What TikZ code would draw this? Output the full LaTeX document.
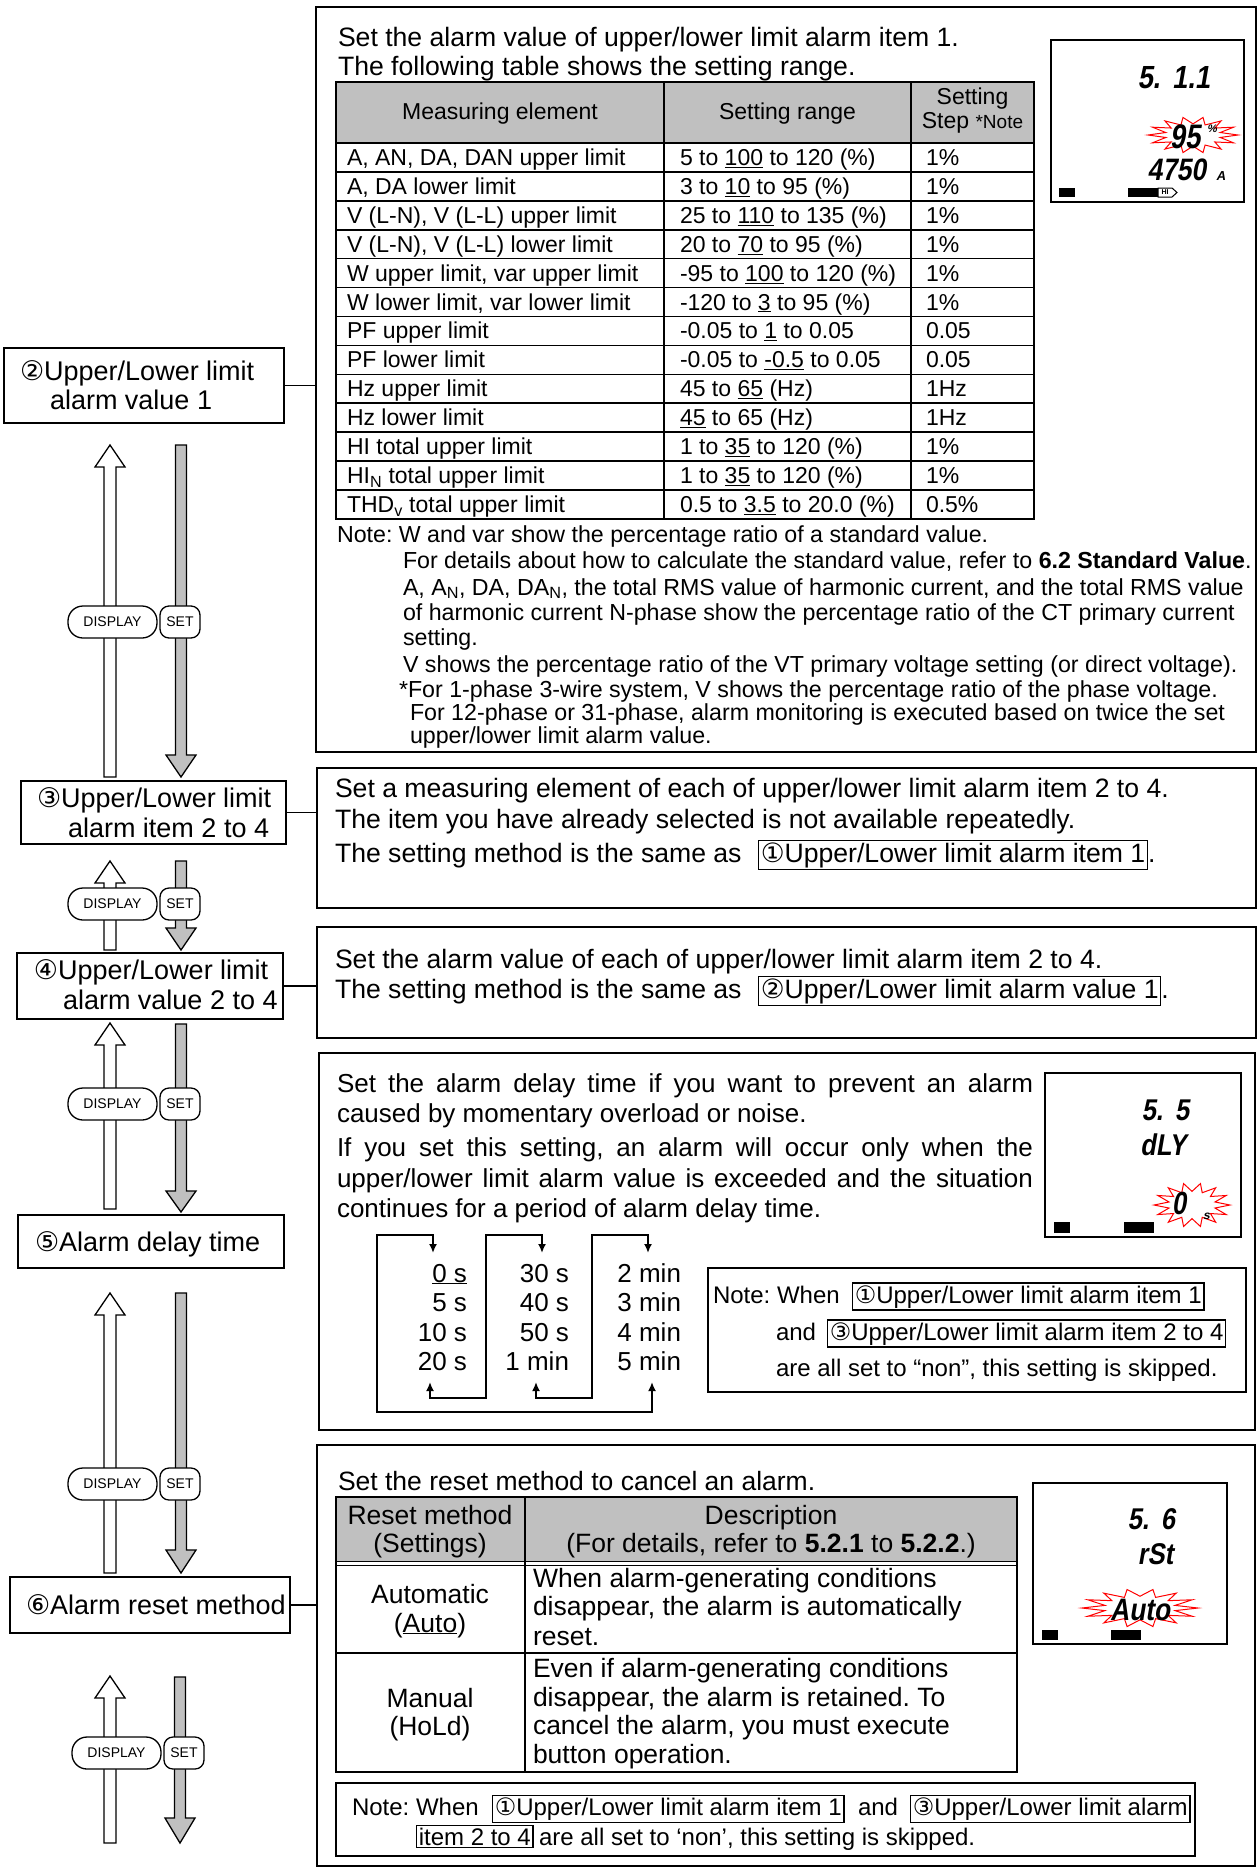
\documentclass[tikz,border=0pt]{standalone}
\usepackage{fontspec}
\setmainfont{Liberation Sans}
\newfontfamily\cfont{DejaVu Sans}
\newfontfamily\lcd{Liberation Sans}[FakeSlant=0.2]
\usepackage{graphicx}
\usetikzlibrary{arrows.meta}
\frenchspacing
\definecolor{hdrgray}{RGB}{192,192,192}
\definecolor{argray}{RGB}{192,192,192}
\newcommand\fsz[1]{\fontsize{#1}{#1}\selectfont}
\newcommand\cn[1]{{\cfont #1}}
\setlength\fboxsep{1.5pt}
\setlength\fboxrule{1.3pt}
\tikzset{
  panel/.style={draw, line width=1.6pt, inner sep=0pt, outer sep=0pt, anchor=north west},
  stepbox/.style={draw, line width=1.4pt, inner sep=0pt, outer sep=0pt, anchor=north west},
  txt/.style={anchor=base west, inner sep=0pt, outer sep=0pt},
  ctxt/.style={anchor=base, inner sep=0pt, outer sep=0pt},
  rtxt/.style={anchor=base east, inner sep=0pt, outer sep=0pt},
  lcdt/.style={inner sep=0pt, outer sep=0pt, text height=0.7em, text depth=0pt},
  conn/.style={line width=1.4pt},
  upar/.style={draw, fill=white, line width=1.3pt},
  dnar/.style={draw, fill=argray, line width=1.3pt},
  btn/.style={draw, fill=white, line width=1.3pt, inner sep=0pt, minimum height=32pt, font={\fsz{14}}},
  grid/.style={line width=1.6pt},
  loopar/.style={line width=2pt, {Latex[length=9pt,width=8pt]}-{Latex[length=9pt,width=8pt]}},
  burst/.style={draw=red, line width=1pt},
  lcdbox/.style={draw, line width=2.4pt},
}
% cx, tip, bottom
\newcommand\uparr[3]{\draw[upar] (#1-6,#3) -- (#1-6,#2+22) -- (#1-15,#2+22) -- (#1,#2) -- (#1+15,#2+22) -- (#1+6,#2+22) -- (#1+6,#3) -- cycle;}
% cx, top, headtop, tip
\newcommand\dnarr[4]{\draw[dnar] (#1-5.5,#2) -- (#1-5.5,#3) -- (#1-15,#3) -- (#1,#4) -- (#1+15,#3) -- (#1+5.5,#3) -- (#1+5.5,#2) -- cycle;}
% name suffix, dx, ytop
\newcommand\btns[3]{%
  \node[btn, rounded corners=15pt, minimum width=89pt] (disp#1) at (112.5+#2,#3+16) {DISPLAY};
  \node[btn, rounded corners=9pt, minimum width=40pt] (set#1) at (180+#2,#3+16) {SET};}
% cx, cy, rx, ry
\newcommand\burst[4]{\draw[burst] plot[domain=0:28, samples=29] ({#1+(0.81+0.19*cos(\x*180))*#3*cos(\x*360/28)},{#2+(0.81+0.19*cos(\x*180))*#4*sin(\x*360/28)}) -- cycle;}
\newcommand\trow[4]{%
  \node[txt] (ra#1) at (347,{143+(#1-0.5)*28.92+8}) {#2};
  \node[txt] (rb#1) at (680,{143+(#1-0.5)*28.92+8}) {#3};
  \node[txt] (rc#1) at (926,{143+(#1-0.5)*28.92+8}) {#4};}

\begin{document}
\begin{tikzpicture}[x=1pt,y=-1pt]
\useasboundingbox (0,0) rectangle (1258,1872);
\fill[white] (0,0) rectangle (1258,1872);

% ---------- left column boxes ----------
\node[stepbox, minimum width=280pt, minimum height=75pt] (b2) at (4,348) {};
\node[stepbox, minimum width=265pt, minimum height=63pt] (b3) at (21,781) {};
\node[stepbox, minimum width=266pt, minimum height=66pt] (b4) at (17,953) {};
\node[stepbox, minimum width=266pt, minimum height=53pt] (b5) at (18,1215) {};
\node[stepbox, minimum width=280pt, minimum height=56pt] (b6) at (10,1577) {};

\begin{scope}[font={\fsz{27}}]
\node[txt] (b2a) at (20,380) {\cn{②}Upper/Lower limit};
\node[txt] (b2b) at (50,409) {alarm value 1};
\node[txt] (b3a) at (37,807) {\cn{③}Upper/Lower limit};
\node[txt] (b3b) at (68,837) {alarm item 2 to 4};
\node[txt] (b4a) at (34,979) {\cn{④}Upper/Lower limit};
\node[txt] (b4b) at (63,1009) {alarm value 2 to 4};
\node[txt] (b5a) at (35,1251) {\cn{⑤}Alarm delay time};
\node[txt] (b6a) at (26,1614) {\cn{⑥}Alarm reset method};
\end{scope}

% ---------- arrows and buttons ----------
\uparr{110}{445}{777}
\dnarr{181}{445}{755}{777}
\btns{1}{0}{606}
\uparr{110}{861}{950}
\dnarr{181}{861}{928}{950}
\btns{2}{0}{888}
\uparr{110}{1023}{1209}
\dnarr{181}{1024}{1191}{1212}
\btns{3}{0}{1088}
\uparr{110}{1293}{1573}
\dnarr{181}{1293}{1550}{1573}
\btns{4}{0}{1468}
\uparr{110}{1676}{1843}
\dnarr{180}{1677}{1818}{1843}
\btns{5}{4}{1737}

% ---------- panels ----------
\node[panel, minimum width=940pt, minimum height=745pt] (p1) at (316,7) {};
\node[panel, minimum width=939pt, minimum height=140pt] (p2) at (317,768) {};
\node[panel, minimum width=939pt, minimum height=111pt] (p3) at (317,927) {};
\node[panel, minimum width=936pt, minimum height=377pt] (p4) at (319,1053) {};
\node[panel, minimum width=938pt, minimum height=421pt] (p5) at (317,1445) {};

\draw[conn] (b2.east) -- (b2.east -| p1.west);
\draw[conn] (b3.east) -- (b3.east -| p2.west);
\draw[conn] (b4.east) -- (b4.east -| p3.west);
\draw[conn] (b6.east) -- (b6.east -| p5.west);

% ---------- panel 1 ----------
\node[txt, font={\fsz{26.6}}] (p1l1) at (338,46) {Set the alarm value of upper/lower limit alarm item 1.};
\node[txt, font={\fsz{26.6}}] (p1l2) at (338,75) {The following table shows the setting range.};

\fill[hdrgray] (336,82) rectangle (1034,143);
\draw[grid] (336,82) rectangle (1034,519);
\draw[line width=2.4pt] (336,143) -- (1034,143);
\foreach \i in {1,...,12} \draw[grid] (336,{143+\i*28.92}) -- (1034,{143+\i*28.92});
\draw[grid] (664,82) -- (664,519);
\draw[grid] (911,82) -- (911,519);

\begin{scope}[font={\fsz{23}}]
\node[ctxt] (h1) at (500,119) {Measuring element};
\node[ctxt] (h2) at (787.5,119) {Setting range};
\node[ctxt] (h3) at (972.5,104) {Setting};
\node[ctxt] (h4) at (972.5,128) {Step {\fsz{19}*Note}};
\trow{1}{A, AN, DA, DAN upper limit}{5 to \underline{100} to 120 (\%)}{1\%}
\trow{2}{A, DA lower limit}{3 to \underline{10} to 95 (\%)}{1\%}
\trow{3}{V (L-N), V (L-L) upper limit}{25 to \underline{110} to 135 (\%)}{1\%}
\trow{4}{V (L-N), V (L-L) lower limit}{20 to \underline{70} to 95 (\%)}{1\%}
\trow{5}{W upper limit, var upper limit}{-95 to \underline{100} to 120 (\%)}{1\%}
\trow{6}{W lower limit, var lower limit}{-120 to \underline{3} to 95 (\%)}{1\%}
\trow{7}{PF upper limit}{-0.05 to \underline{1} to 0.05}{0.05}
\trow{8}{PF lower limit}{-0.05 to \underline{-0.5} to 0.05}{0.05}
\trow{9}{Hz upper limit}{45 to \underline{65} (Hz)}{1Hz}
\trow{10}{Hz lower limit}{\underline{45} to 65 (Hz)}{1Hz}
\trow{11}{HI total upper limit}{1 to \underline{35} to 120 (\%)}{1\%}
\trow{12}{HI\textsubscript{N} total upper limit}{1 to \underline{35} to 120 (\%)}{1\%}
\trow{13}{THD\textsubscript{v} total upper limit}{0.5 to \underline{3.5} to 20.0 (\%)}{0.5\%}
\end{scope}

\begin{scope}[font={\fsz{23.2}}]
\node[txt] (n1) at (337,542) {Note: W and var show the percentage ratio of a standard value.};
\node[txt] (n2) at (403,568) {For details about how to calculate the standard value, refer to \textbf{6.2 Standard Value}.};
\node[txt] (n3) at (403,595) {A, A\textsubscript{N}, DA, DA\textsubscript{N}, the total RMS value of harmonic current, and the total RMS value};
\node[txt] (n4) at (403,620) {of harmonic current N-phase show the percentage ratio of the CT primary current};
\node[txt] (n5) at (403,645) {setting.};
\node[txt] (n6) at (403,672) {V shows the percentage ratio of the VT primary voltage setting (or direct voltage).};
\node[txt] (n7) at (399,697) {*For 1-phase 3-wire system, V shows the percentage ratio of the phase voltage.};
\node[txt] (n8) at (410,720) {For 12-phase or 31-phase, alarm monitoring is executed based on twice the set};
\node[txt] (n9) at (410,743) {upper/lower limit alarm value.};
\end{scope}

% LCD 1
\draw[lcdbox] (1051,40) rectangle (1244,202);
\node[lcdt, anchor=base east, font={\lcd\bfseries\fsz{32}}] (lcd1a) at (1210,88) {\scalebox{0.85}[1]{5.\hspace{14pt}1.1}};
\burst{1193}{135}{45}{18}
\node[lcdt, anchor=base, font={\lcd\bfseries\fsz{34}}] (lcd1b) at (1185,148) {\scalebox{0.8}[1]{95}};
\node[lcdt, anchor=base west, font={\lcd\bfseries\fsz{11}}] (lcd1c) at (1207,132) {\%};
\node[lcdt, anchor=base east, font={\lcd\bfseries\fsz{31}}] (lcd1d) at (1206,180) {\scalebox{0.85}[1]{4750}};
\node[lcdt, anchor=base west, font={\lcd\bfseries\fsz{13}}] (lcd1e) at (1216,180) {A};
\fill (1059,188) rectangle (1075,197);
\fill (1128,188) rectangle (1158,197);
\draw[line width=1pt, fill=white] (1158,188) -- (1172,188) -- (1177,192.5) -- (1172,197) -- (1158,197) -- cycle;
\node[font={\bfseries\fsz{7}}, inner sep=0pt] (lcd1f) at (1165,192.5) {HI};

% ---------- panel 2 ----------
\begin{scope}[font={\fsz{26.6}}]
\node[txt] (p2l1) at (335,797) {Set a measuring element of each of upper/lower limit alarm item 2 to 4.};
\node[txt] (p2l2) at (335,828) {The item you have already selected is not available repeatedly.};
\node[txt] (p2l3) at (335,862) {The setting method is the same as};
\node[txt] (p2r) at (758,862) {\fbox{\cn{①}Upper/Lower limit alarm item 1}};
\node[txt] (p2d) at (p2r.base east) {.};
% ---------- panel 3 ----------
\node[txt] (p3l1) at (335,968) {Set the alarm value of each of upper/lower limit alarm item 2 to 4.};
\node[txt] (p3l2) at (335,998) {The setting method is the same as};
\node[txt] (p3r) at (758,998) {\fbox{\cn{②}Upper/Lower limit alarm value 1}};
\node[txt] (p3d) at (p3r.base east) {.};
\end{scope}
% ---------- panel 4 ----------
\begin{scope}[font={\fsz{26}}]
\node[txt] (p4l1) at (337,1092) {\makebox[696pt][s]{Set the alarm delay time if you want to prevent an alarm}};
\node[txt] (p4l2) at (337,1122) {caused by momentary overload or noise.};
\node[txt] (p4l3) at (337,1156) {\makebox[696pt][s]{If you set this setting, an alarm will occur only when the}};
\node[txt] (p4l4) at (337,1187) {\makebox[696pt][s]{upper/lower limit alarm value is exceeded and the situation}};
\node[txt] (p4l5) at (337,1217) {continues for a period of alarm delay time.};

\node[rtxt] (c11) at (467,1282) {\underline{0 s}};
\node[rtxt] (c12) at (467,1311) {5 s};
\node[rtxt] (c13) at (467,1341) {10 s};
\node[rtxt] (c14) at (467,1370) {20 s};
\node[rtxt] (c21) at (569,1282) {30 s};
\node[rtxt] (c22) at (569,1311) {40 s};
\node[rtxt] (c23) at (569,1341) {50 s};
\node[rtxt] (c24) at (569,1370) {1 min};
\node[rtxt] (c31) at (681,1282) {2 min};
\node[rtxt] (c32) at (681,1311) {3 min};
\node[rtxt] (c33) at (681,1341) {4 min};
\node[rtxt] (c34) at (681,1370) {5 min};
\end{scope}

\coordinate (la1) at (652,1382); \coordinate (la2) at (433,1253);
\coordinate (lb1) at (430,1382); \coordinate (lb2) at (542,1253);
\coordinate (lc1) at (536,1382); \coordinate (lc2) at (648,1253);
\draw[loopar] (la1) -- (652,1412) -- (377,1412) -- (377,1235) -- (433,1235) -- (la2);
\draw[loopar] (lb1) -- (430,1398) -- (486,1398) -- (486,1235) -- (542,1235) -- (lb2);
\draw[loopar] (lc1) -- (536,1398) -- (592,1398) -- (592,1235) -- (648,1235) -- (lc2);

\node[stepbox, minimum width=538pt, minimum height=124pt] (nb4) at (708,1268) {};
\begin{scope}[font={\fsz{24}}]
\node[txt] (nb4a) at (713,1303) {Note: When};
\node[txt] (nb4b) at (852,1303) {\fbox{\cn{①}Upper/Lower limit alarm item 1}};
\node[txt] (nb4c) at (776,1340) {and};
\node[txt] (nb4d) at (827,1340) {\fbox{\cn{③}Upper/Lower limit alarm item 2 to 4}};
\node[txt] (nb4e) at (776,1376) {are all set to “non”, this setting is skipped.};
\end{scope}

% LCD 2
\draw[lcdbox] (1045,1073) rectangle (1241,1237);
\node[lcdt, anchor=base east, font={\lcd\bfseries\fsz{30}}] (lcd2a) at (1189,1120) {\scalebox{0.85}[1]{5.\hspace{14pt}5}};
\node[lcdt, anchor=base east, font={\lcd\bfseries\fsz{30}}] (lcd2b) at (1186,1155) {\scalebox{0.85}[1]{dLY}};
\burst{1192}{1205}{38}{22}
\node[lcdt, anchor=base, font={\lcd\bfseries\fsz{32}}] (lcd2c) at (1179,1214) {\scalebox{0.8}[1]{0}};
\node[lcdt, anchor=base west, font={\lcd\bfseries\fsz{12}}] (lcd2d) at (1203,1219) {s};
\fill (1054,1222) rectangle (1070,1233);
\fill (1124,1222) rectangle (1154,1233);

% ---------- panel 5 ----------
\node[txt, font={\fsz{26.5}}] (p5l1) at (338,1490) {Set the reset method to cancel an alarm.};
\fill[hdrgray] (336,1497) rectangle (1017,1561);
\draw[grid] (336,1497) rectangle (1017,1772);
\draw[line width=1pt] (336,1561) -- (1017,1561);
\draw[line width=1pt] (336,1565) -- (1017,1565);
\draw[grid] (336,1653) -- (1017,1653);
\draw[grid] (525,1497) -- (525,1772);
\begin{scope}[font={\fsz{26.5}}]
\node[ctxt] (r1) at (430,1524) {Reset method};
\node[ctxt] (r2) at (430,1552) {(Settings)};
\node[ctxt] (r3) at (771,1524) {Description};
\node[ctxt] (r4) at (771,1552) {(For details, refer to \textbf{5.2.1} to \textbf{5.2.2}.)};
\node[ctxt] (r5) at (430,1603) {Automatic};
\node[ctxt] (r6) at (430,1632) {(\underline{Auto})};
\node[txt] (r7) at (533,1587) {When alarm-generating conditions};
\node[txt] (r8) at (533,1615) {disappear, the alarm is automatically};
\node[txt] (r9) at (533,1645) {reset.};
\node[ctxt] (r10) at (430,1707) {Manual};
\node[ctxt] (r11) at (430,1735) {(HoLd)};
\node[txt] (r12) at (533,1677) {Even if alarm-generating conditions};
\node[txt] (r13) at (533,1706) {disappear, the alarm is retained. To};
\node[txt] (r14) at (533,1734) {cancel the alarm, you must execute};
\node[txt] (r15) at (533,1763) {button operation.};
\end{scope}

\node[stepbox, minimum width=859pt, minimum height=73pt] (nb5) at (336,1783) {};
\begin{scope}[font={\fsz{24}}]
\node[txt] (nb5a) at (352,1815) {Note: When};
\node[txt] (nb5b) at (492,1815) {\fbox{\cn{①}Upper/Lower limit alarm item 1}};
\node[txt] (nb5c) at (858,1815) {and};
\node[txt] (nb5d) at (910,1815) {\fbox{\cn{③}Upper/Lower limit alarm}};
\node[txt] (nb5e) at (416,1845) {\fbox{item 2 to 4}};
\node[txt] (nb5f) at (539,1845) {are all set to ‘non’, this setting is skipped.};
\end{scope}

% LCD 3
\draw[lcdbox] (1033,1483) rectangle (1227,1644);
\node[lcdt, anchor=base east, font={\lcd\bfseries\fsz{30}}] (lcd3a) at (1175,1529) {\scalebox{0.85}[1]{5.\hspace{14pt}6}};
\node[lcdt, anchor=base east, font={\lcd\bfseries\fsz{30}}] (lcd3b) at (1173,1564) {\scalebox{0.85}[1]{rSt}};
\burst{1140}{1608}{58}{19}
\node[lcdt, anchor=base, font={\lcd\bfseries\fsz{31}}] (lcd3c) at (1140,1620) {\scalebox{0.85}[1]{Auto}};
\fill (1042,1630) rectangle (1058,1640);
\fill (1111,1630) rectangle (1141,1640);
\end{tikzpicture}
\end{document}
